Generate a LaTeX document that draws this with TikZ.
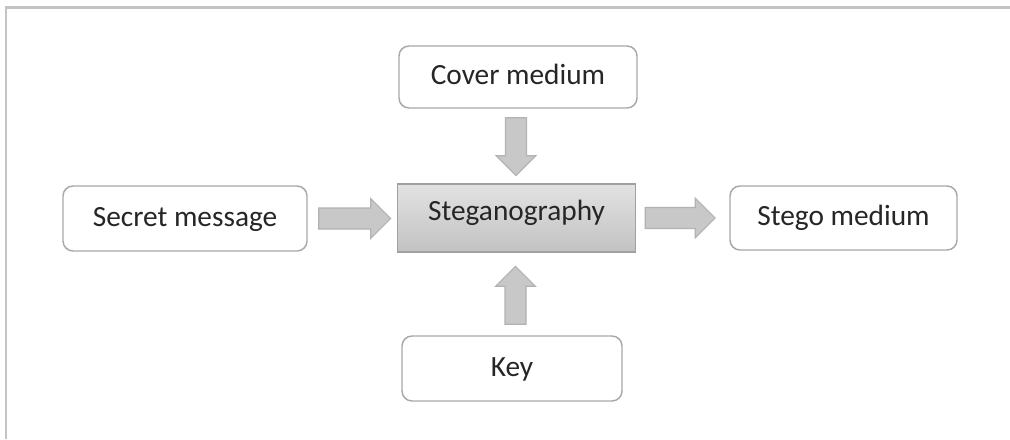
\documentclass[tikz,border=0pt]{standalone}
\usepackage{fontspec}
\setmainfont{Carlito}
\usetikzlibrary{calc}
\definecolor{frameg}{HTML}{C4C4C4}
\definecolor{boxline}{HTML}{A8A8A8}
\definecolor{arrfill}{HTML}{C8C8C8}
\definecolor{arrline}{HTML}{B2B2B2}
\definecolor{stegtop}{HTML}{E2E2E2}
\definecolor{stegbot}{HTML}{C2C2C2}
\definecolor{stegline}{HTML}{A0A0A0}
\tikzset{
  every node/.style={font=\fontsize{22pt}{25pt}\selectfont, text=black!85},
  roundbox/.style={draw=boxline, line width=1.1pt, rounded corners=7.5pt, fill=white,
     inner sep=0pt, text height=1.2em, text depth=0.02em},
  stegbox/.style={draw=stegline, line width=1.1pt, top color=stegtop, bottom color=stegbot,
     inner sep=0pt, text height=0.76em, text depth=0.36em},
  pics/barrow/.style={code={
     \draw[fill=arrfill, draw=arrline, line width=0.8pt]
       (0,-10.5) -- (#1-20,-10.5) -- (#1-20,-20) -- (#1,0) -- (#1-20,20)
       -- (#1-20,10.5) -- (0,10.5) -- cycle;}}
}
\begin{document}
\begin{tikzpicture}[x=0.75pt,y=-0.75pt]
\useasboundingbox (0,0) rectangle (1010,439);
% frame
\draw[frameg, line width=2.2pt] (6,439) -- (6,7.5) -- (1010,7.5);
% nodes
\node[roundbox, minimum width=238*0.75pt, minimum height=62*0.75pt] (cover) at (518,77) {Cover medium};
\node[roundbox, minimum width=244*0.75pt, minimum height=65*0.75pt] (secret) at (185,218.5) {Secret message};
\node[stegbox, minimum width=238*0.75pt, minimum height=68*0.75pt] (steg) at (516.5,218) {Steganography};
\node[roundbox, minimum width=227*0.75pt, minimum height=64*0.75pt] (stego) at (843.5,218) {Stego medium};
\node[roundbox, minimum width=220*0.75pt, minimum height=65*0.75pt] (key) at (512,368.5) {Key};
% block arrows between nodes
\pic at ($(secret.east)+(11,0)$) {barrow=72};
\pic at ($(steg.east)+(9,0)$) {barrow=70};
\pic[rotate=-90] at ($(cover.south)+(-2,9)$) {barrow=58};
\pic[rotate=90] at ($(key.north)+(3.5,-11)$) {barrow=58};
\end{tikzpicture}
\end{document}
